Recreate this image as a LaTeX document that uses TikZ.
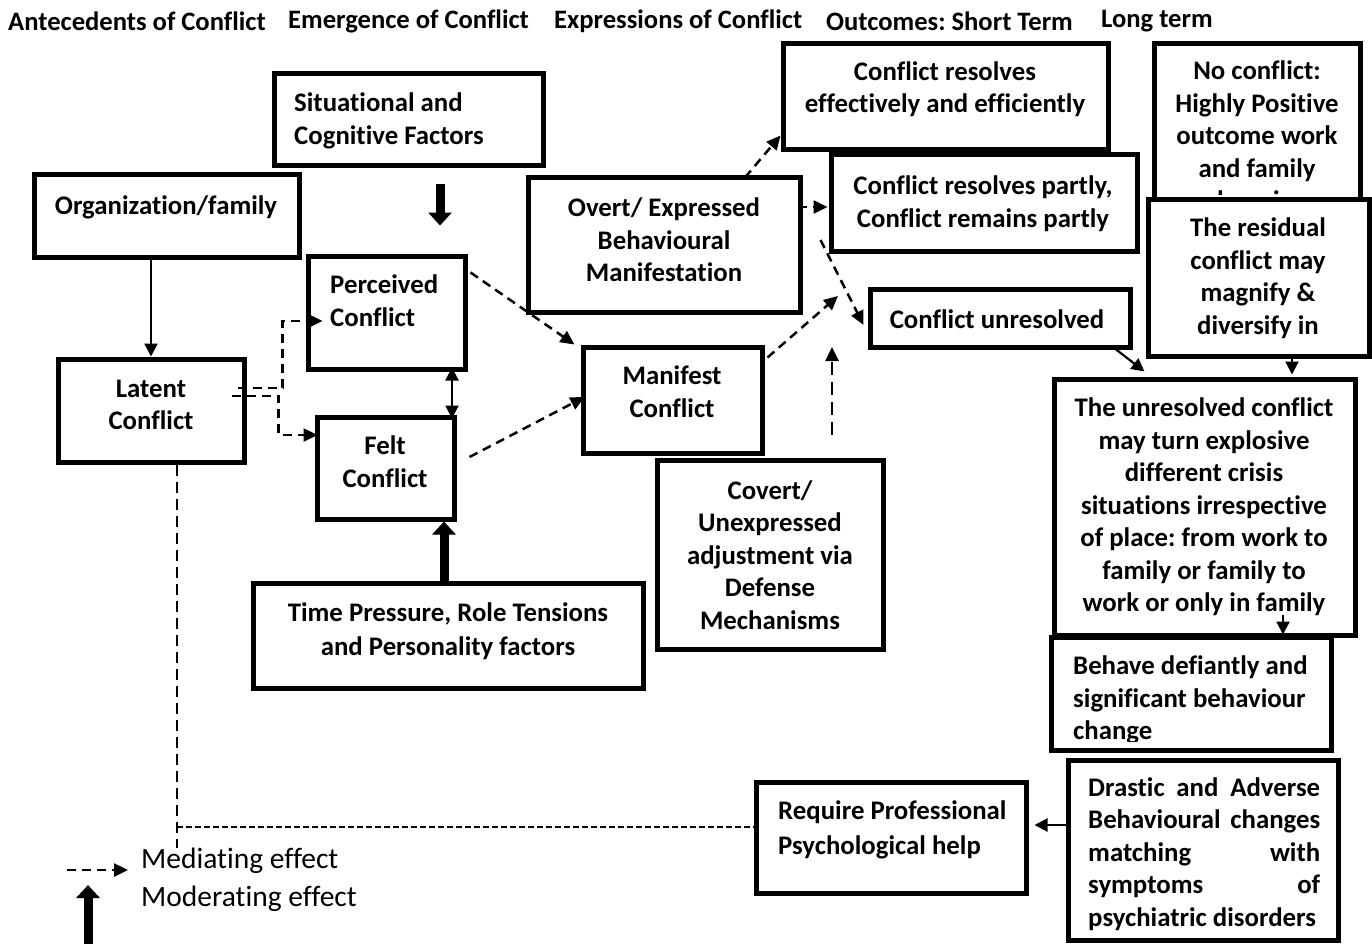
\documentclass[tikz,border=0pt]{standalone}
\usepackage{fontspec}
\setmainfont{Carlito}[Ligatures={NoCommon}]
\frenchspacing
\usetikzlibrary{arrows.meta,calc}
\tikzset{
  box/.style={draw, line width=5pt, fill=white, inner sep=0pt},
  txt/.style={font=\fontsize{26.8}{32.5}\selectfont\bfseries, inner sep=0pt, align=center, yshift=-4.5pt,
    execute at begin node=\strut, execute at end node=\strut},
  hdr/.style={font=\fontsize{26.6}{30}\selectfont\bfseries, inner sep=0pt, anchor=west, yshift=-1pt},
  leg/.style={font=\fontsize{29.5}{34}\selectfont, inner sep=0pt, anchor=west},
  med/.style={line width=2.5pt, dash pattern=on 9pt off 6pt, -{Triangle[length=14pt,width=13pt]}},
  longline/.style={line width=2.5pt, dash pattern=on 11pt off 6pt},
  shortline/.style={line width=2.5pt, dash pattern=on 6pt off 3pt},
  sol/.style={line width=2.2pt, -{Triangle[length=13pt,width=13pt]}},
  soltwo/.style={line width=2.2pt, {Triangle[length=13pt,width=13pt]}-{Triangle[length=13pt,width=13pt]}},
  moder/.style={line width=9pt, -{Triangle[length=13pt,width=23pt]}},
}
\begin{document}
\begin{tikzpicture}[x=1pt,y=-1pt]
\useasboundingbox (0,0) rectangle (1372,944);
% headers
\node[hdr] (hA) at (8,20) {Antecedents of Conflict};
\node[hdr] (hB) at (288,20) {Emergence of Conflict};
\node[hdr] (hC) at (554,20) {Expressions of Conflict};
\node[hdr] (hD) at (826,20) {Outcomes: Short Term};
\node[hdr] (hE) at (1101,20) {Long term};
% boxes left part
\node[box, minimum width=269pt, minimum height=92pt] (situ) at (408.5,120) {};
\node[txt, align=left, anchor=west] (tsitu) at (294,119) {Situational and\\Cognitive Factors};
\node[box, minimum width=265pt, minimum height=82pt] (org) at (166.5,216) {};
\node[txt] (torg) at (166,204) {Organization/family};
\node[box, minimum width=157pt, minimum height=113pt] (perc) at (386.5,312.5) {};
\node[txt, align=left, anchor=west] (tperc) at (330,301) {Perceived\\Conflict};
\node[box, minimum width=186pt, minimum height=103pt] (lat) at (151,410.5) {};
\node[txt] (tlat) at (151,405) {Latent\\Conflict};
\node[box, minimum width=137pt, minimum height=102pt] (felt) at (385.5,468) {};
\node[txt] (tfelt) at (385,462) {Felt\\Conflict};
\node[box, minimum width=390pt, minimum height=105pt] (time) at (448,635.5) {};
\node[txt, font=\fontsize{26.8}{34}\selectfont\bfseries] (ttime) at (448,630) {Time Pressure, Role Tensions\\and Personality factors};
\node[box, minimum width=272pt, minimum height=134pt] (overt) at (664,245) {};
\node[txt] (tovert) at (664,240) {Overt/ Expressed\\Behavioural\\Manifestation};
\node[box, minimum width=179pt, minimum height=106pt] (manif) at (672.5,400) {};
\node[txt] (tmanif) at (672,392) {Manifest\\Conflict};
\node[box, minimum width=226pt, minimum height=189pt] (covert) at (770,554.5) {};
\node[txt] (tcovert) at (770,555) {Covert/\\Unexpressed\\adjustment via\\Defense\\Mechanisms};
% outcomes
\node[box, minimum width=325pt, minimum height=106pt] (effect) at (945.5,97) {};
\node[txt] (teffect) at (945,87.5) {Conflict resolves\\effectively and efficiently};
\node[box, minimum width=306pt, minimum height=96pt] (partly) at (984,203) {};
\node[txt] (tpartly) at (983,202) {Conflict resolves partly,\\Conflict remains partly};
\node[box, minimum width=260pt, minimum height=58pt] (unres) at (1000,318) {};
\node[txt] (tunres) at (997,317) {Conflict unresolved};
\node[box, minimum width=206pt, minimum height=200pt] (nocon) at (1257,144) {};
\begin{scope}
\clip (1150,40) rectangle (1365,194);
\node[txt] (tnocon) at (1257,135.5) {No conflict:\\Highly Positive\\outcome work\\and family\\domains};
\end{scope}
\node[box, minimum width=221pt, minimum height=157pt] (resid) at (1258.5,277.5) {};
\node[txt] (tresid) at (1258,276.5) {The residual\\conflict may\\magnify \&\\diversify in};
\node[box, minimum width=301pt, minimum height=256pt] (unrcon) at (1204.5,507) {};
\node[txt] (tunrcon) at (1204,505) {The unresolved conflict\\may turn explosive\\different crisis\\situations irrespective\\of place: from work to\\family or family to\\work or only in family};
\node[box, minimum width=280pt, minimum height=113pt] (behave) at (1191,693.5) {};
\begin{scope}
\clip (1050,640) rectangle (1330,741);
\node[txt, align=left, anchor=west] (tbehave) at (1073,698.3) {Behave defiantly and\\significant behaviour\\change};
\end{scope}
\node[box, minimum width=270pt, minimum height=180pt] (drastic) at (1203,850) {};
\node[txt, align=left, anchor=west] (tdrastic) at (1088,852) {\makebox[232pt][s]{Drastic and Adverse}\\\makebox[232pt][s]{Behavioural changes}\\\makebox[232pt][s]{matching with}\\\makebox[232pt][s]{symptoms of}\\psychiatric disorders};
\node[box, minimum width=270pt, minimum height=111pt] (require) at (891,837.5) {};
\node[txt, align=left, anchor=west, font=\fontsize{26.8}{35}\selectfont\bfseries] (trequire) at (778,828.5) {Require Professional\\Psychological help};
% connectors
\draw[sol] (org.south -| lat.north) -- (lat.north);
\draw[moder] ([xshift=31.5pt,yshift=-16pt]situ.south) -- ([xshift=53.5pt,yshift=28pt]perc.north);
\draw[moder] ([xshift=-4pt]time.north) coordinate (tm) -- (tm |- felt.south);
\draw[med] ($(lat.east)+(-9,-22.5)$) -- ++(45,0) |- ($(perc.west)+(17,8.5)$);
\draw[med] ($(lat.east)+(-15,-14.5)$) -- ++(47,0) |- ($(felt.west)+(3,-33)$);
\draw[soltwo] ($(perc.south)+(65.5,-4)$) coordinate (pf) -- (pf |- {$(felt.north)+(0,4)$});
\draw[med] ($(perc.north east)+(3,19)$) -- ($(manif.north west)+(-6,0)$);
\draw[med] ($(felt.east)+(13,-11)$) -- ($(manif.west)+(4,-3)$);
\coordinate (jn) at (838,296);
\draw[med] ($(manif.north east)+(3,13)$) -- (jn);
\coordinate (cv) at (832,347);
\draw[med, dash pattern=on 13pt off 7pt] ($(covert.north)+(62,-23)$) -- (cv);
\draw[med] ($(overt.north)+(81,2)$) -- ($(effect.south west)+(0,-17)$);
\draw[med] ($(overt.east)+(-5,-38)$) -- ($(partly.west)+(-1,4)$);
\draw[med] ($(overt.east)+(18,-5)$) -- ($(unres.west)+(-4,7)$);
\draw[sol] ($(unres.south east)+(-19,-2)$) -- ($(unrcon.north west)+(93,-5)$);
\draw[sol] ($(resid.south)+(33.5,0)$) coordinate (rs) -- ($(rs |- unrcon.north)+(0,-2)$);
\draw[sol] ($(unrcon.south)+(78.5,-23)$) coordinate (us) -- (us |- behave.north);
\draw[sol, shorten >=6pt] ($(drastic.west)+(0,-25)$) coordinate (ds) -- (ds -| require.east);
% latent to require
\draw[longline] ($(lat.south)+(26,0)$) coordinate (ls) -- ++(0,383);
\draw[shortline] (ls |- {$(require.west)+(0,-10.5)$}) -- ($(require.west)+(0,-10.5)$);
% legend
\coordinate (la) at (67,870);
\coordinate (lb) at (128,870);
\draw[med] (la) -- (lb);
\coordinate (lc) at (88,944);
\coordinate (ld) at (88,885);
\draw[moder] (lc) -- (ld);
\node[leg] (lmed) at (141,861) {Mediating effect};
\node[leg] (lmod) at (141,899) {Moderating effect};
\end{tikzpicture}
\end{document}
